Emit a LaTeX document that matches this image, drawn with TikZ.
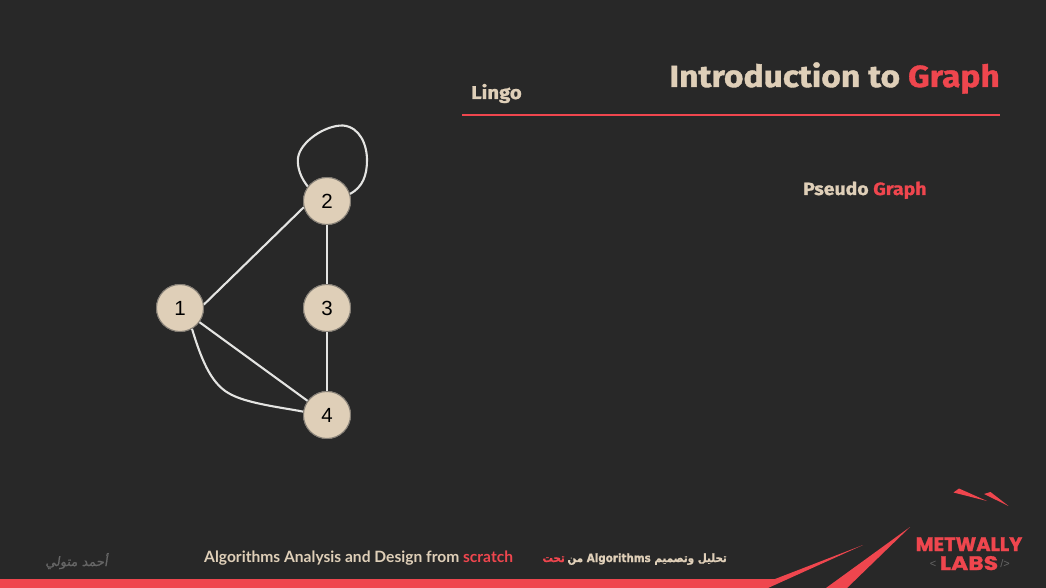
\documentclass[tikz,border=0pt]{standalone}
\usepackage{fontspec}
\TeXXeTstate=1
\setmainfont{Fira Sans}
\newfontfamily\headfont[BoldFeatures={FakeStretch=1.1,FakeBold=1.2}]{Fira Sans}
\newfontfamily\arialfont{Liberation Sans}
\newfontfamily\footfont{Lato}
\newfontfamily\logofont[BoldFeatures={FakeBold=1.5}]{Poppins}
\newfontfamily\logobig[BoldFeatures={FakeBold=1.5,FakeStretch=1.2}]{Poppins}
\newfontfamily\arabicfont[Script=Arabic,BoldFeatures={FakeStretch=0.9,FakeBold=1}]{DejaVu Sans}
\newfontfamily\sigfont[Script=Arabic,FakeBold=1,FakeSlant=0.15]{DejaVu Sans}
\definecolor{bgc}{HTML}{282828}
\definecolor{cream}{HTML}{DFCFB8}
\definecolor{redc}{HTML}{EF464E}
\definecolor{edgec}{HTML}{E4E4E2}
\definecolor{sigc}{HTML}{666666}
\definecolor{ringc}{HTML}{857F76}
\tikzset{
  vertex/.style={circle,draw=ringc,line width=1pt,fill=cream,minimum size=47pt,inner sep=0pt,font=\arialfont\fontsize{20.5}{22}\selectfont,text=black},
  edgeline/.style={draw=edgec,line width=2.1pt},
  heading/.style={inner sep=0pt,text=cream},
  redshape/.style={fill=redc,draw=none},
  plaintext/.style={inner sep=0pt},
}
\begin{document}
\begin{tikzpicture}[x=1pt,y=-1pt]
\useasboundingbox (0,0) rectangle (1046,588);
\fill[bgc] (0,0) rectangle (1046,588);
% footer band and logo shards
\fill[redshape] (0,579) -- (775,579) -- (863,545) -- (768,588) -- (0,588) -- cycle;
\fill[redshape] (826,588) -- (910,527) -- (847,588) -- cycle;
\fill[redshape] (953.5,492.5) -- (959,488.5) -- (987,501) -- cycle;
\fill[redshape] (984,494) -- (990.5,492) -- (1008.5,506) -- cycle;
% headings
\node[heading,anchor=base east,font=\headfont\bfseries\fontsize{30.5}{34}\selectfont] (title) at (1000,87) {Introduction to \textcolor{redc}{Graph}};
\node[heading,anchor=base west,font=\headfont\bfseries\fontsize{18.5}{20}\selectfont] (lingo) at (471,99) {Lingo};
\fill[redc] (462,114.5) rectangle (1000,116.5);
\node[heading,anchor=base west,font=\headfont\bfseries\fontsize{17.7}{20}\selectfont] (pseudo) at (803,195) {Pseudo \textcolor{redc}{Graph}};
% graph
\node[vertex] (n1) at (180,308) {1};
\node[vertex] (n2) at (327,201) {2};
\node[vertex] (n3) at (327,308) {3};
\node[vertex] (n4) at (327,415) {4};
\draw[edgeline] (n1.8) -- (n2.195);
\draw[edgeline] (n2) -- (n3);
\draw[edgeline] (n3) -- (n4);
\draw[edgeline] (n1) -- (n4);
\draw[edgeline] (n1.-60) .. controls (203,365) and (213,386) .. (232,395) .. controls (250,404) and (285,408) .. (n4.172);
\draw[edgeline] (n2.143) .. controls (301,178) and (297,168) .. (298,158) .. controls (300,142) and (325,125) .. (343,125.5) .. controls (360,127) and (367,145) .. (367,160) .. controls (367,175) and (363,187) .. (n2.17);
\node[vertex] at (n1) {1};
\node[vertex] at (n2) {2};
\node[vertex] at (n3) {3};
\node[vertex] at (n4) {4};
% footer text
\node[plaintext,anchor=base west,text=cream,font=\footfont\bfseries\fontsize{15.6}{18}\selectfont] (foot) at (204,562) {Algorithms Analysis and Design from \textcolor{redc}{scratch}};
\node[plaintext,anchor=base east,text=cream,font=\arabicfont\bfseries\fontsize{11.5}{16}\selectfont] (footar) at (727,562) {\beginR تحليل وتصميم \beginL Algorithms\endL{} من\endR};
\node[plaintext,anchor=base east,text=redc,font=\arabicfont\bfseries\fontsize{11.5}{16}\selectfont] (footred) at (565,562) {\beginR تحت\endR};
\node[plaintext,anchor=base east,text=sigc,font=\sigfont\fontsize{13}{16}\selectfont] (sig) at (108,566) {\beginR أحمد متولي\endR};
% logo text
\node[plaintext,anchor=base,text=redc,font=\logofont\bfseries\fontsize{19.5}{22}\selectfont] (logo1) at (969,551) {METWALLY};
\node[plaintext,anchor=base,text=redc,font=\logobig\bfseries\fontsize{19.5}{22}\selectfont] (logo2) at (969,570) {LABS};
\node[plaintext,anchor=base,text=sigc,font=\arialfont\fontsize{11}{12}\selectfont] (logo3) at (933,567) {<};
\node[plaintext,anchor=base,text=sigc,font=\arialfont\fontsize{11}{12}\selectfont] (logo4) at (1005,567) {/>};
\end{tikzpicture}
\end{document}
